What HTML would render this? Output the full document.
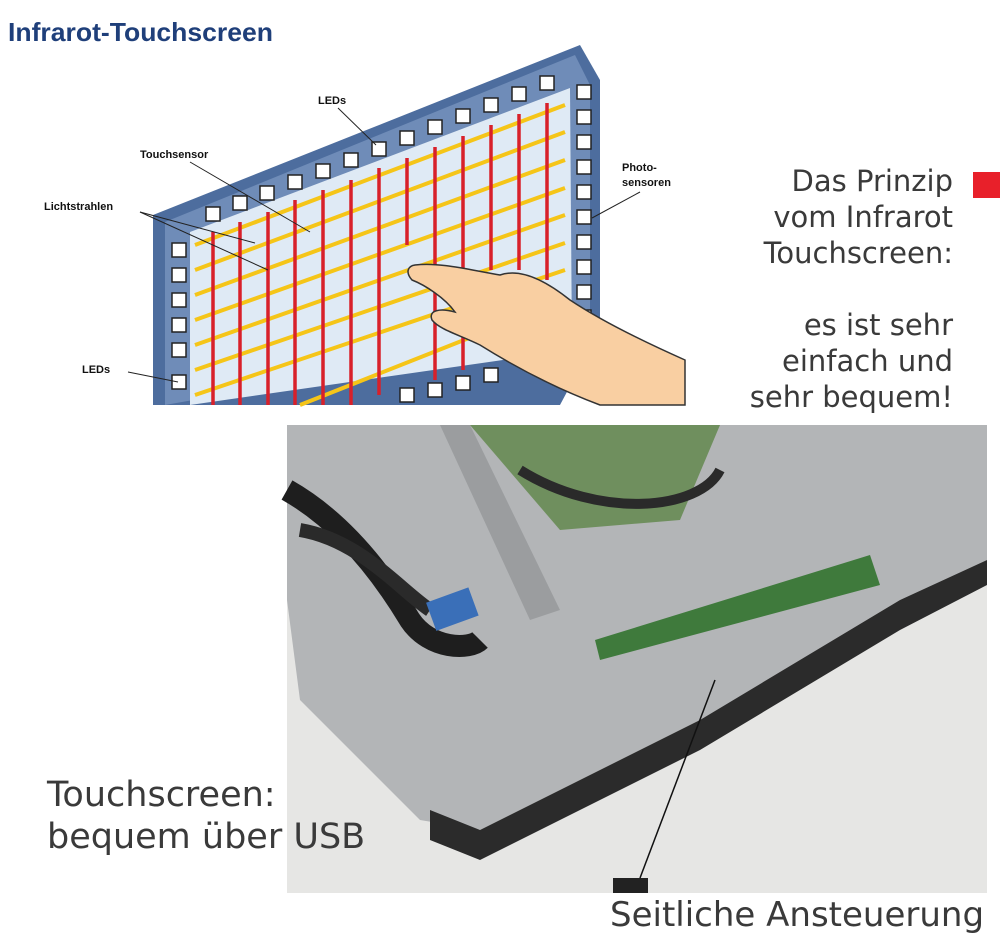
<!DOCTYPE html>
<html><head><meta charset="utf-8"><style>
body{margin:0;width:1000px;height:941px;background:#fff;position:relative;overflow:hidden;font-family:"Liberation Sans",sans-serif}
.t{position:absolute;color:#3a3a3a;font-family:"DejaVu Sans","Liberation Sans",sans-serif}
</style></head><body>
<svg width="1000" height="941" style="position:absolute;left:0;top:0">
<text x="8" y="41" font-family="Liberation Sans Narrow, Liberation Sans" font-weight="bold" font-size="26" fill="#1f3f7a" textLength="265" lengthAdjust="spacingAndGlyphs">Infrarot-Touchscreen</text>
<polygon points="153,215 580,45 600,80 600,330 560,405 153,405" fill="#4d6d9e"/>
<polygon points="165,222 575,55 590,85 590,330 165,405" fill="#6f8cb8"/>
<polygon points="190,232 570,88 572,350 190,405" fill="#dfeaf5"/>
<g fill="#fff" stroke="#222" stroke-width="1.5">
<rect x="206" y="207" width="14" height="14"/><rect x="233" y="196" width="14" height="14"/><rect x="260" y="186" width="14" height="14"/><rect x="288" y="175" width="14" height="14"/><rect x="316" y="164" width="14" height="14"/><rect x="344" y="153" width="14" height="14"/><rect x="372" y="142" width="14" height="14"/><rect x="400" y="131" width="14" height="14"/><rect x="428" y="120" width="14" height="14"/><rect x="456" y="109" width="14" height="14"/><rect x="484" y="98" width="14" height="14"/><rect x="512" y="87" width="14" height="14"/><rect x="540" y="76" width="14" height="14"/>
<rect x="172" y="243" width="14" height="14"/><rect x="172" y="268" width="14" height="14"/><rect x="172" y="293" width="14" height="14"/><rect x="172" y="318" width="14" height="14"/><rect x="172" y="343" width="14" height="14"/><rect x="172" y="375" width="14" height="14"/>
<rect x="577" y="85" width="14" height="14"/><rect x="577" y="110" width="14" height="14"/><rect x="577" y="135" width="14" height="14"/><rect x="577" y="160" width="14" height="14"/><rect x="577" y="185" width="14" height="14"/><rect x="577" y="210" width="14" height="14"/><rect x="577" y="235" width="14" height="14"/><rect x="577" y="260" width="14" height="14"/><rect x="577" y="285" width="14" height="14"/><rect x="577" y="310" width="14" height="14"/>
<rect x="400" y="388" width="14" height="14"/><rect x="428" y="383" width="14" height="14"/><rect x="456" y="376" width="14" height="14"/><rect x="484" y="368" width="14" height="14"/>
</g>
<g stroke="#f5c518" stroke-width="4">
<line x1="195" y1="245" x2="565" y2="105"/><line x1="195" y1="270" x2="565" y2="132"/><line x1="195" y1="295" x2="565" y2="160"/><line x1="195" y1="320" x2="565" y2="188"/><line x1="195" y1="345" x2="565" y2="215"/><line x1="195" y1="370" x2="565" y2="243"/><line x1="195" y1="395" x2="565" y2="270"/><line x1="300" y1="405" x2="565" y2="300"/>
</g>
<g stroke="#d8202a" stroke-width="3.5">
<line x1="213" y1="232" x2="213" y2="405"/><line x1="240" y1="222" x2="240" y2="405"/><line x1="268" y1="212" x2="268" y2="405"/><line x1="295" y1="200" x2="295" y2="405"/><line x1="323" y1="190" x2="323" y2="405"/><line x1="351" y1="180" x2="351" y2="405"/><line x1="379" y1="168" x2="379" y2="395"/><line x1="407" y1="158" x2="407" y2="245"/><line x1="435" y1="147" x2="435" y2="380"/><line x1="463" y1="136" x2="463" y2="370"/><line x1="491" y1="125" x2="491" y2="270"/><line x1="519" y1="114" x2="519" y2="270"/><line x1="547" y1="103" x2="547" y2="280"/>
</g>
<path d="M415,265 C440,262 470,270 500,275 C520,268 545,280 570,300 C600,320 640,340 685,360 L685,405 L600,405 C560,390 520,370 480,345 C460,335 440,330 432,320 C428,310 440,308 455,312 C445,298 425,285 412,280 C405,272 408,266 415,265Z" fill="#f9cfa2" stroke="#333" stroke-width="1.5"/>
<g font-family="Liberation Sans" font-weight="bold" font-size="11" fill="#111">
<text x="318" y="104">LEDs</text><text x="140" y="158">Touchsensor</text><text x="44" y="210">Lichtstrahlen</text><text x="622" y="171">Photo-</text><text x="622" y="186">sensoren</text><text x="82" y="373">LEDs</text>
</g>
<g stroke="#222" stroke-width="1">
<line x1="338" y1="108" x2="376" y2="145"/><line x1="190" y1="162" x2="310" y2="232"/><line x1="140" y1="212" x2="255" y2="243"/><line x1="140" y1="212" x2="268" y2="270"/><line x1="640" y1="192" x2="592" y2="218"/><line x1="128" y1="372" x2="178" y2="382"/>
</g>
<rect x="287" y="425" width="700" height="468" fill="#e6e6e4"/>
<polygon points="287,425 987,425 987,560 900,600 700,720 480,830 420,820 300,700 287,600" fill="#b3b5b7"/>
<polygon points="430,810 480,830 700,720 900,600 987,560 987,585 900,630 700,750 480,860 430,840" fill="#2b2b2b"/>
<polygon points="470,425 720,425 680,520 560,530" fill="#6f8f5e"/>
<polygon points="595,640 870,555 880,585 600,660" fill="#3f7a3c"/>
<path d="M287,490 C340,520 380,570 410,620 C430,650 470,650 480,640" stroke="#1e1e1e" stroke-width="22" fill="none"/>
<path d="M300,530 C360,540 400,590 430,610" stroke="#2a2a2a" stroke-width="14" fill="none"/>
<path d="M520,470 C600,520 700,510 720,470" stroke="#2a2a2a" stroke-width="10" fill="none"/>
<rect x="430" y="595" width="45" height="30" fill="#3a6fb8" transform="rotate(-20 450 610)"/>
<polygon points="440,425 470,425 560,610 530,620" fill="#9b9d9f"/>
<rect x="613" y="878" width="35" height="15" fill="#222"/>
<line x1="640" y1="878" x2="715" y2="680" stroke="#111" stroke-width="1.5"/>
<rect x="973" y="172" width="27" height="26" fill="#e8202a"/>
</svg>
<div class="t" style="right:47px;top:163px;font-size:29px;line-height:36px;text-align:right">Das Prinzip<br>vom Infrarot<br>Touchscreen:<br><br>es ist sehr<br>einfach und<br>sehr bequem!</div>
<div class="t" style="left:47px;top:774px;font-size:35px;line-height:42px">Touchscreen:<br>bequem über USB</div>
<div class="t" style="left:610px;top:894px;font-size:34px;line-height:42px">Seitliche Ansteuerung</div>
</body></html>
